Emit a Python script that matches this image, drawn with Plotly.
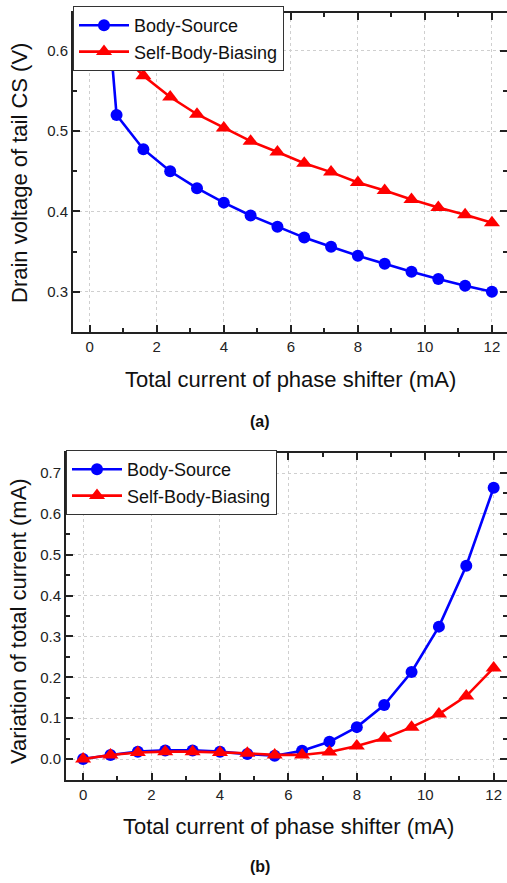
import plotly.graph_objects as go

current_ma = [0, 0.8, 1.6, 2.4, 3.2, 4.0, 4.8, 5.6, 6.4, 7.2, 8.0, 8.8, 9.6, 10.4, 11.2, 12.0]

# (a) Drain voltage of tail CS (V)
vd_body_source = [0.92, 0.520, 0.4775, 0.450, 0.429, 0.411, 0.395, 0.381, 0.3675, 0.356,
                  0.345, 0.335, 0.325, 0.316, 0.3075, 0.300]
vd_self_body = [0.94, 0.602, 0.569, 0.5425, 0.521, 0.504, 0.4875, 0.474, 0.460, 0.449,
                0.436, 0.426, 0.415, 0.405, 0.396, 0.386]

# (b) Variation of total current (mA)
dv_body_source = [0.0, 0.010, 0.018, 0.021, 0.021, 0.018, 0.012, 0.008, 0.020, 0.042,
                  0.078, 0.132, 0.213, 0.324, 0.473, 0.664]
dv_self_body = [0.0, 0.010, 0.016, 0.018, 0.018, 0.016, 0.014, 0.010, 0.010, 0.017,
                0.032, 0.051, 0.078, 0.110, 0.154, 0.223]

series_names = ["Body-Source", "Self-Body-Biasing"]
title_x = "Total current of phase shifter (mA)"
title_ya = "Drain voltage of tail CS (V)"
title_yb = "Variation of total current (mA)"

W, H = 507, 883
FONT = "Liberation Sans, Arial, sans-serif"
BLUE = "#0000FF"
RED = "#FF0000"

fig = go.Figure()

LW = 2.6
fig.add_trace(go.Scatter(x=current_ma, y=vd_body_source, mode="lines+markers", name=series_names[0],
                         line=dict(color=BLUE, width=LW), marker=dict(symbol="circle", size=12, color=BLUE),
                         xaxis="x", yaxis="y", legend="legend"))
fig.add_trace(go.Scatter(x=current_ma, y=vd_self_body, mode="lines+markers", name=series_names[1],
                         line=dict(color=RED, width=LW), marker=dict(symbol="triangle-up", size=14, color=RED),
                         xaxis="x", yaxis="y", legend="legend"))
fig.add_trace(go.Scatter(x=current_ma, y=dv_body_source, mode="lines+markers", name=series_names[0],
                         line=dict(color=BLUE, width=LW), marker=dict(symbol="circle", size=12, color=BLUE),
                         xaxis="x2", yaxis="y2", legend="legend2"))
fig.add_trace(go.Scatter(x=current_ma, y=dv_self_body, mode="lines+markers", name=series_names[1],
                         line=dict(color=RED, width=LW), marker=dict(symbol="triangle-up", size=14, color=RED),
                         xaxis="x2", yaxis="y2", legend="legend2"))


def px_x(p):
    return p / W


def px_y(p):
    return 1 - p / H


axis_common = dict(
    showline=True, linecolor="#222", linewidth=2, mirror="ticks",
    ticks="inside", ticklen=7, tickwidth=1.5, tickcolor="#222",
    showgrid=True, gridcolor="#cfcfcf", griddash="dot", gridwidth=1,
    zeroline=False,
    tickfont=dict(family=FONT, size=15, color="#222"),
    automargin=False,
)
minor_common = dict(ticks="inside", ticklen=4, tickcolor="#222", showgrid=False)

fig.update_layout(
    width=W, height=H,
    margin=dict(l=0, r=0, t=0, b=0),
    paper_bgcolor="white", plot_bgcolor="white",
    font=dict(family=FONT, color="#222"),
    xaxis=dict(domain=[px_x(73), 1], anchor="y", range=[-0.5, 12.45], dtick=2, tick0=0,
               minor=dict(dtick=1, **minor_common), **axis_common),
    yaxis=dict(domain=[px_y(332), px_y(13)], anchor="x", range=[0.25, 0.647], dtick=0.1, tick0=0,
               tickformat=".1f", minor=dict(dtick=0.05, **minor_common), **axis_common),
    xaxis2=dict(domain=[px_x(66), 1], anchor="y2", range=[-0.5, 12.39], dtick=2, tick0=0,
                minor=dict(dtick=1, **minor_common), **axis_common),
    yaxis2=dict(domain=[px_y(780), px_y(453)], anchor="x2", range=[-0.0514, 0.749], dtick=0.1, tick0=0,
                tickformat=".1f", minor=dict(dtick=0.05, **minor_common), **axis_common),
    legend=dict(x=px_x(73), y=px_y(6), xanchor="left", yanchor="top",
                bgcolor="white", bordercolor="#333", borderwidth=1,
                font=dict(family=FONT, size=18, color="#111"), tracegroupgap=0,
                itemwidth=50),
    legend2=dict(x=px_x(66), y=px_y(450), xanchor="left", yanchor="top",
                 bgcolor="white", bordercolor="#333", borderwidth=1,
                 font=dict(family=FONT, size=18, color="#111"), tracegroupgap=0,
                 itemwidth=50),
    showlegend=True,
)


def ann(text, x, y, size, angle=0):
    return dict(text=text, x=px_x(x), y=px_y(y), xref="paper", yref="paper", showarrow=False,
                xanchor="center", yanchor="middle", textangle=angle,
                font=dict(family=FONT, size=size, color="#111"))


fig.update_layout(annotations=[
    ann(title_x, 290, 380, 22),
    ann(title_ya, 19, 173, 22, -90),
    ann("<b>(a)</b>", 260, 421, 16),
    ann(title_x, 288, 826, 22),
    ann(title_yb, 18, 621, 22, -90),
    ann("<b>(b)</b>", 260, 866, 16),
])

fig.write_html("out.html")
